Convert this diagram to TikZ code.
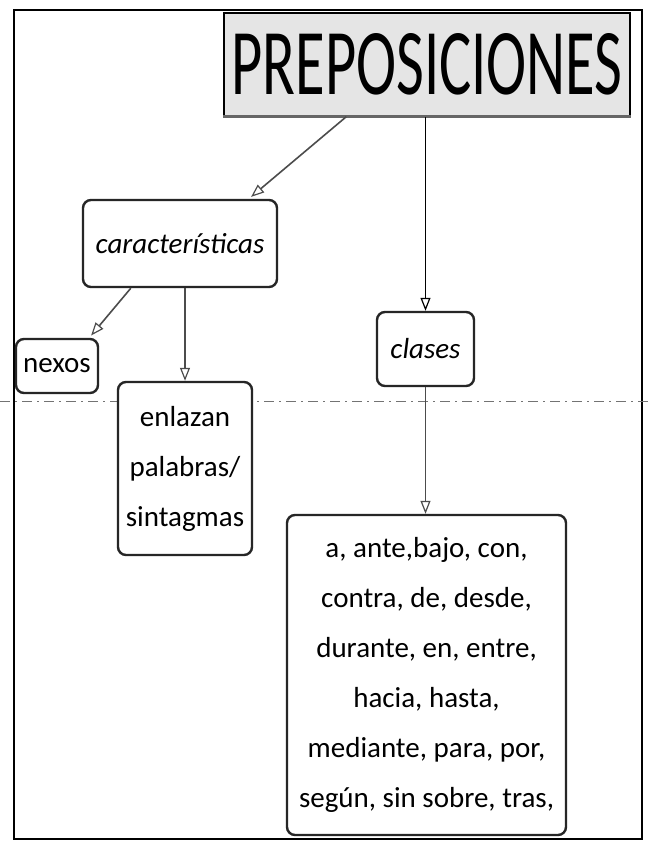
\documentclass[tikz,border=0pt]{standalone}
\usepackage{fontspec}
\usepackage{graphicx}
\setmainfont{Carlito}
\usetikzlibrary{arrows.meta}
\begin{document}
\begin{tikzpicture}[x=1pt,y=-1pt,
  conbox/.style={draw=black!85, line width=2.4pt, rounded corners=8pt, inner sep=0pt,
    align=center, font=\fontsize{29}{50}\selectfont, fill=white},
  link/.style={draw=black!70, line width=1.6pt,
    -{Triangle[open,length=13pt,width=10pt,line width=1.2pt]}},
]
\useasboundingbox (0,0) rectangle (649,843);
\fill[white] (0,0) rectangle (649,843);
% outer frame
\draw[line width=1.5pt] (14,10) rectangle (642,839);
% fold line
\draw[black!55, line width=1pt, dash pattern=on 10pt off 5pt on 2pt off 5pt] (0,401) -- (649,401);
% title
\node[draw=black, line width=1.5pt, fill=black!10, minimum width=406pt, minimum height=103pt, inner sep=0pt]
  (title) at (427,64.5) {\resizebox{391pt}{61pt}{PREPOSICIONES}};
\draw[black!60, line width=3pt] (title.south west) -- (title.south east);
% nodes
\node[conbox, minimum width=194pt, minimum height=87pt] (car) at (180,243.5) {\itshape características};
\node[conbox, minimum width=82pt, minimum height=54pt] (nexos) at (57,366) {nexos};
\node[conbox, minimum width=134pt, minimum height=173pt] (enl) at (185,468.5) {enlazan\\palabras/\\sintagmas};
\node[conbox, minimum width=97pt, minimum height=74pt] (clases) at (425.5,349) {\itshape clases};
\node[conbox, minimum width=279pt, minimum height=320pt] (lista) at (426.5,675)
  {a, ante,bajo, con,\\contra, de, desde,\\durante, en, entre,\\hacia, hasta,\\mediante, para, por,\\según, sin sobre, tras,};
% connectors
\draw[link, shorten >=3pt] ([xshift=123pt]title.south west) -- ([xshift=167pt]car.north west);
\draw[link, black] (clases.north |- title.south) -- (clases.north);
\draw[link, shorten >=3pt] ([xshift=49pt]car.south west) -- ([xshift=-10pt]nexos.north east);
\draw[link] (enl.north |- car.south) -- (enl.north);
\draw[link] (clases.south) -- (clases.south |- lista.north);
\end{tikzpicture}
\end{document}
